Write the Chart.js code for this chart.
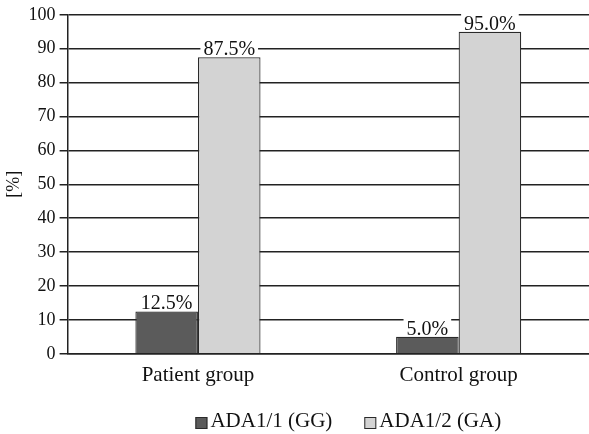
<!DOCTYPE html>
<html>
<head>
<meta charset="utf-8">
<script src="https://cdn.jsdelivr.net/npm/chart.js@4"></script>
<style>
  html, body { margin: 0; padding: 0; background: #fff; }
  #wrap { width: 589px; height: 434px; }
</style>
</head>
<body>
<div id="wrap"><canvas id="chart" width="589" height="434"></canvas></div>
<script>
// Data
const groups = ['Patient group', 'Control group'];
const seriesNames = ['ADA1/1 (GG)', 'ADA1/2 (GA)'];
const gg = [12.5, 5.0];
const ga = [87.5, 95.0];
const yTicks = [0, 10, 20, 30, 40, 50, 60, 70, 80, 90, 100];

const serif = "'Liberation Serif', 'DejaVu Serif', serif";
const colors = ['#5b5b5b', '#d3d3d3'];

// value labels with a white box behind, sitting on the bar top
const valueLabels = {
  id: 'valueLabels',
  afterDatasetsDraw(chart) {
    const ctx = chart.ctx;
    ctx.save();
    ctx.font = '20px ' + serif;
    ctx.textAlign = 'center';
    ctx.textBaseline = 'alphabetic';
    chart.data.datasets.forEach((ds, i) => {
      chart.getDatasetMeta(i).data.forEach((bar, j) => {
        const txt = ds.data[j].toFixed(1) + '%';
        const w = ctx.measureText(txt).width;
        const x = bar.x;
        const y = bar.y;
        ctx.fillStyle = '#fff';
        ctx.fillRect(x - w / 2 - 3, y - 19, w + 6, 18);
        ctx.fillStyle = '#111';
        ctx.fillText(txt, x, y - 2);
      });
    });
    ctx.restore();
  }
};

// legend drawn by hand so the box sits close to its text
const bottomLegend = {
  id: 'bottomLegend',
  afterDraw(chart) {
    const ctx = chart.ctx;
    ctx.save();
    ctx.font = '21px ' + serif;
    ctx.textBaseline = 'alphabetic';
    const gap = 3, sep = 32, box = 12;
    const widths = seriesNames.map(n => box + gap + ctx.measureText(n).width);
    const total = widths.reduce((a, b) => a + b, 0) + sep;
    let x = (chart.chartArea.left + chart.chartArea.right) / 2 - total / 2 + 20;
    const base = 427;
    seriesNames.forEach((n, i) => {
      ctx.fillStyle = colors[i];
      ctx.fillRect(x, base - 10, box, box);
      ctx.strokeStyle = '#2a2a2a';
      ctx.lineWidth = 1;
      ctx.strokeRect(x + 0.5, base - 9.5, box - 1, box - 1);
      ctx.fillStyle = '#111';
      ctx.fillText(n, x + box + gap, base);
      x += widths[i] + sep;
    });
    ctx.restore();
  }
};

new Chart(document.getElementById('chart'), {
  type: 'bar',
  data: {
    labels: groups,
    datasets: [
      { label: seriesNames[0], data: gg, backgroundColor: colors[0], borderColor: '#2a2a2a', borderWidth: 1.2 },
      { label: seriesNames[1], data: ga, backgroundColor: colors[1], borderColor: '#2a2a2a', borderWidth: 1.2 }
    ]
  },
  options: {
    responsive: false,
    animation: false,
    layout: { padding: { top: 6, right: 0, left: 3, bottom: 45 } },
    datasets: { bar: { barPercentage: 1, categoryPercentage: 0.48 } },
    plugins: {
      legend: { display: false },
      tooltip: { enabled: false }
    },
    scales: {
      x: {
        grid: { display: false },
        border: { color: '#222', width: 1.5 },
        ticks: { font: { family: serif, size: 21 }, color: '#111', padding: 1 }
      },
      y: {
        min: 0,
        max: 100,
        afterBuildTicks(axis) { axis.ticks = yTicks.map(v => ({ value: v })); },
        grid: { color: '#222', lineWidth: 1.5, tickLength: 8 },
        border: { color: '#222', width: 1.5 },
        ticks: { font: { family: serif, size: 18 }, color: '#111', padding: 4 },
        title: { display: true, text: '[%]', font: { family: serif, size: 18 }, color: '#111', padding: 0 }
      }
    }
  },
  plugins: [valueLabels, bottomLegend]
});
</script>
</body>
</html>
